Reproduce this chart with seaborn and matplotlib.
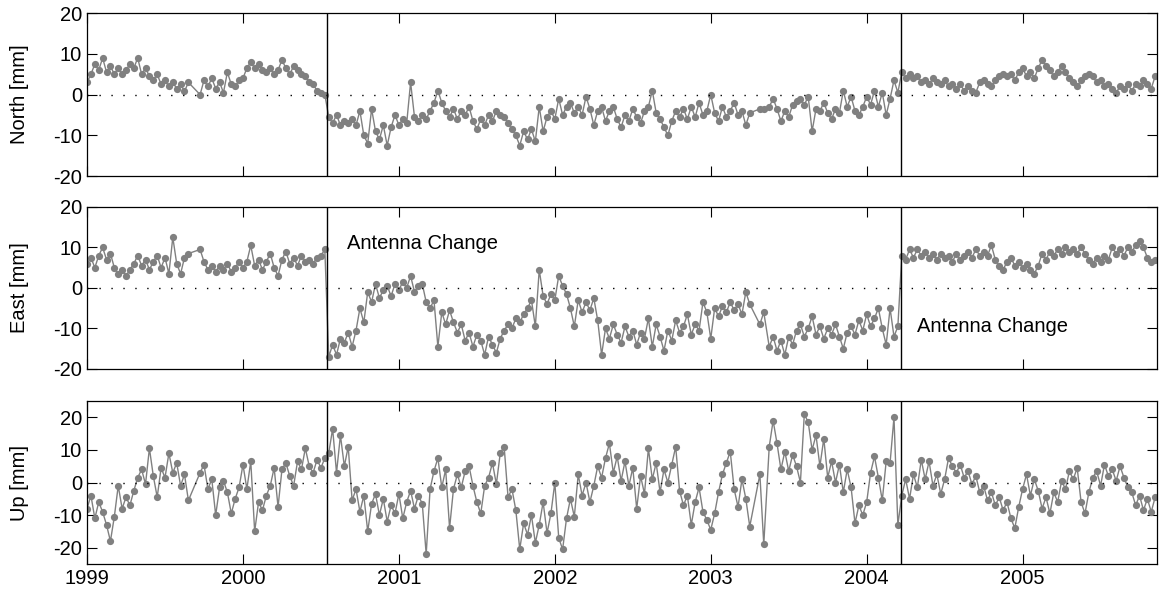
import pandas as pd
import seaborn as sns
import matplotlib.pyplot as plt

# epochs in decimal years (shared by the three components), values in mm
years = [
    # 1999 (data gap 1999.65 - 1999.725)
    1999.000, 1999.025, 1999.050, 1999.075, 1999.100, 1999.125, 1999.150, 1999.175, 1999.200, 1999.225,
    1999.250, 1999.275, 1999.300, 1999.325, 1999.350, 1999.375, 1999.400, 1999.425, 1999.450, 1999.475,
    1999.500, 1999.525, 1999.550, 1999.575, 1999.600, 1999.625, 1999.650,
    1999.725, 1999.750, 1999.775, 1999.800, 1999.825, 1999.850, 1999.875, 1999.900, 1999.925, 1999.950, 1999.975,
    # 2000
    2000.000, 2000.025, 2000.050, 2000.075, 2000.100, 2000.125, 2000.150, 2000.175, 2000.200, 2000.225,
    2000.250, 2000.275, 2000.300, 2000.325, 2000.350, 2000.375, 2000.400, 2000.425, 2000.450, 2000.475,
    2000.500, 2000.525, 2000.550, 2000.575, 2000.600, 2000.625, 2000.650, 2000.675, 2000.700, 2000.725,
    2000.750, 2000.775, 2000.800, 2000.825, 2000.850, 2000.875, 2000.900, 2000.925, 2000.950, 2000.975,
    # 2001
    2001.000, 2001.025, 2001.050, 2001.075, 2001.100, 2001.125, 2001.150, 2001.175, 2001.200, 2001.225,
    2001.250, 2001.275, 2001.300, 2001.325, 2001.350, 2001.375, 2001.400, 2001.425, 2001.450, 2001.475,
    2001.500, 2001.525, 2001.550, 2001.575, 2001.600, 2001.625, 2001.650, 2001.675, 2001.700, 2001.725,
    2001.750, 2001.775, 2001.800, 2001.825, 2001.850, 2001.875, 2001.900, 2001.925, 2001.950, 2001.975,
    # 2002
    2002.000, 2002.025, 2002.050, 2002.075, 2002.100, 2002.125, 2002.150, 2002.175, 2002.200, 2002.225,
    2002.250, 2002.275, 2002.300, 2002.325, 2002.350, 2002.375, 2002.400, 2002.425, 2002.450, 2002.475,
    2002.500, 2002.525, 2002.550, 2002.575, 2002.600, 2002.625, 2002.650, 2002.675, 2002.700, 2002.725,
    2002.750, 2002.775, 2002.800, 2002.825, 2002.850, 2002.875, 2002.900, 2002.925, 2002.950, 2002.975,
    # 2003 (sparse around 2003.3)
    2003.000, 2003.025, 2003.050, 2003.075, 2003.100, 2003.125, 2003.150, 2003.175, 2003.200, 2003.225,
    2003.250,
    2003.315, 2003.340,
    2003.375, 2003.400, 2003.425, 2003.450, 2003.475, 2003.500, 2003.525, 2003.550, 2003.575, 2003.600,
    2003.625, 2003.650, 2003.675, 2003.700, 2003.725, 2003.750, 2003.775, 2003.800, 2003.825, 2003.850,
    2003.875, 2003.900, 2003.925, 2003.950, 2003.975,
    # 2004
    2004.000, 2004.025, 2004.050, 2004.075, 2004.100, 2004.125, 2004.150, 2004.175, 2004.200, 2004.225,
    2004.250, 2004.275, 2004.300, 2004.325, 2004.350, 2004.375, 2004.400, 2004.425, 2004.450, 2004.475,
    2004.500, 2004.525, 2004.550, 2004.575, 2004.600, 2004.625, 2004.650, 2004.675, 2004.700, 2004.725,
    2004.750, 2004.775, 2004.800, 2004.825, 2004.850, 2004.875, 2004.900, 2004.925, 2004.950, 2004.975,
    # 2005
    2005.000, 2005.025, 2005.050, 2005.075, 2005.100, 2005.125, 2005.150, 2005.175, 2005.200, 2005.225,
    2005.250, 2005.275, 2005.300, 2005.325, 2005.350, 2005.375, 2005.400, 2005.425, 2005.450, 2005.475,
    2005.500, 2005.525, 2005.550, 2005.575, 2005.600, 2005.625, 2005.650, 2005.675, 2005.700, 2005.725,
    2005.750, 2005.775, 2005.800, 2005.825, 2005.850,
]

north = [
    3.0, 5.0, 7.5, 6.0, 9.0, 5.5, 7.0, 5.0, 6.5, 5.0,
    6.0, 7.5, 6.5, 9.0, 5.0, 6.5, 4.5, 3.5, 5.0, 2.5,
    3.5, 2.0, 3.0, 1.5, 2.5, 0.8, 3.0,
    0.0, 3.5, 2.0, 4.0, 1.5, 3.0, 0.5, 5.5, 2.5, 2.0, 3.5,
    4.0, 6.5, 8.0, 6.5, 7.5, 6.0, 5.5, 6.5, 5.0, 6.0,
    8.5, 6.5, 5.0, 7.0, 6.0, 5.0, 4.5, 3.0, 2.5, 1.0,
    0.5, 0.0, -5.5, -7.0, -5.0, -7.5, -6.5, -7.0, -6.0, -7.5,
    -4.0, -10.0, -12.0, -3.5, -9.0, -11.0, -7.5, -12.5, -8.0, -5.0,
    -7.5, -6.0, -7.0, 3.0, -5.5, -6.5, -5.0, -6.0, -4.0, -2.0,
    1.0, -2.0, -4.0, -5.5, -3.5, -6.0, -4.0, -5.0, -3.0, -6.5,
    -8.5, -6.0, -7.5, -5.0, -6.5, -4.0, -5.0, -5.5, -7.0, -8.5,
    -10.0, -12.5, -9.0, -11.0, -8.5, -11.5, -3.0, -9.0, -5.5, -4.0,
    -6.0, -1.0, -5.0, -3.0, -2.0, -4.5, -3.0, -5.0, -0.5, -3.5,
    -7.5, -4.0, -3.0, -6.5, -4.0, -3.0, -6.0, -8.0, -5.0, -6.5,
    -3.5, -5.5, -7.0, -4.0, -3.0, 1.0, -4.5, -6.0, -8.0, -10.0,
    -6.5, -4.0, -5.5, -3.5, -6.0, -3.0, -5.5, -2.0, -5.0, -4.0,
    0.0, -4.5, -6.5, -3.0, -5.5, -4.0, -2.0, -5.0, -4.0, -7.5,
    -4.5,
    -3.5, -3.5,
    -3.0, -1.0, -3.5, -6.5, -4.0, -5.5, -2.5, -1.5, -1.0, -2.5,
    -0.5, -9.0, -3.5, -4.0, -2.0, -4.5, -6.0, -3.5, -4.5, 1.0,
    -3.0, -0.5, -4.0, -5.0, -3.0,
    -0.5, -2.5, 1.0, -3.0, 0.5, -5.0, -1.0, 3.5, 0.5, 5.5,
    4.0, 5.0, 4.0, 4.5, 3.0, 3.5, 2.5, 4.0, 3.0, 2.5,
    3.5, 2.0, 2.5, 1.5, 2.5, 1.0, 2.0, 1.0, 0.5, 3.0,
    3.5, 2.5, 2.0, 3.5, 4.5, 5.0, 4.5, 5.0, 3.5, 5.5,
    6.5, 4.5, 5.5, 4.0, 6.5, 8.5, 7.0, 6.0, 4.5, 5.5,
    7.0, 5.5, 4.0, 3.0, 2.0, 3.5, 4.5, 5.0, 4.5, 3.0,
    3.5, 2.0, 2.5, 1.5, 0.5, 2.0, 1.5, 2.5, 1.0, 2.5,
    2.0, 3.5, 2.5, 1.5, 4.5,
]

east = [
    6.0, 7.5, 5.0, 8.0, 10.0, 7.0, 8.5, 5.0, 3.5, 4.5,
    3.0, 4.5, 6.0, 8.0, 5.5, 7.0, 4.5, 6.5, 8.0, 5.0,
    7.5, 3.5, 12.5, 6.0, 3.5, 7.5, 8.5,
    9.5, 6.5, 4.5, 5.5, 4.0, 5.5, 4.5, 6.0, 4.0, 5.0, 6.5,
    5.0, 6.5, 10.5, 5.5, 7.0, 4.5, 6.5, 8.5, 5.0, 3.0,
    7.0, 9.0, 6.0, 7.5, 5.5, 8.0, 6.5, 7.0, 6.0, 7.5,
    8.0, 9.5, -17.0, -14.0, -16.5, -12.5, -13.5, -11.0, -14.5, -10.5,
    -5.0, -8.5, -1.0, -3.5, 1.0, -2.5, -0.5, 0.5, -2.0, 1.0,
    -0.5, 1.5, 0.0, 3.0, -1.0, 0.5, 1.0, -3.5, -5.0, -3.0,
    -14.5, -6.0, -9.0, -5.5, -8.5, -11.0, -9.0, -13.0, -11.0, -14.5,
    -11.5, -13.0, -16.5, -12.0, -14.0, -16.0, -12.5, -10.5, -9.0, -10.0,
    -7.5, -8.5, -6.5, -5.0, -3.0, -9.5, 4.5, -2.0, -4.0, -1.5,
    -3.0, 3.0, 0.5, -1.5, -5.0, -9.5, -3.0, -6.0, -3.5, -5.5,
    -2.5, -8.0, -16.5, -10.0, -12.5, -9.0, -11.5, -13.5, -9.5, -12.0,
    -10.5, -14.0, -11.0, -12.5, -7.5, -14.5, -9.0, -12.0, -15.5, -10.5,
    -13.0, -8.0, -11.0, -9.5, -6.5, -11.5, -9.0, -10.5, -3.5, -6.0,
    -12.5, -5.0, -7.0, -4.5, -6.0, -3.5, -5.5, -4.0, -6.5, -1.0,
    -4.0,
    -9.0, -6.0,
    -14.5, -12.0, -15.5, -13.0, -16.5, -12.0, -14.0, -10.5, -9.0, -12.0,
    -10.0, -7.0, -11.5, -9.5, -12.5, -10.0, -11.5, -9.0, -12.0, -15.0,
    -11.0, -9.5, -11.5, -8.0, -10.5,
    -6.5, -9.5, -7.5, -5.0, -10.0, -14.0, -5.0, -12.0, -9.5, 8.0,
    7.0, 9.5, 7.5, 9.5, 8.0, 9.0, 7.5, 8.5, 7.0, 8.5,
    7.5, 8.0, 6.5, 8.5, 7.0, 8.0, 9.0, 7.5, 9.5, 8.0,
    9.0, 8.0, 10.5, 7.0, 5.5, 4.5, 6.5, 7.5, 5.5, 6.5,
    5.0, 6.0, 4.5, 3.5, 5.5, 8.5, 7.0, 9.0, 8.0, 9.5,
    8.5, 10.0, 9.0, 9.5, 8.5, 10.0, 8.5, 7.0, 6.0, 7.5,
    6.5, 8.0, 7.0, 10.0, 8.5, 9.5, 8.0, 10.0, 9.0, 10.5,
    11.5, 10.0, 7.5, 6.5, 7.0,
]

up = [
    -8.0, -4.0, -11.0, -6.0, -9.0, -13.0, -18.0, -10.5, -1.0, -8.0,
    -4.5, -7.0, -2.5, 1.5, 4.0, -0.5, 10.5, 2.0, -4.5, 4.5,
    1.5, 9.0, 3.0, 6.0, -1.0, 2.5, -5.5,
    3.0, 5.5, -2.0, 1.0, -10.0, -1.5, 0.5, -3.0, -9.5, -5.0, -1.5,
    5.5, -2.0, 6.5, -15.0, -6.0, -8.5, -4.0, -1.0, 4.5, -7.5,
    4.0, 6.0, 2.0, -1.0, 6.5, 4.0, 10.5, 5.0, 3.0, 7.0,
    4.5, 7.5, 9.0, 16.5, 3.0, 14.5, 5.0, 11.0, -5.5, -2.0,
    -9.0, -4.0, -15.0, -6.5, -3.5, -10.0, -5.0, -12.0, -7.0, -9.5,
    -3.5, -11.0, -6.0, -2.5, -8.0, -4.0, -6.5, -22.0, -2.0, 3.5,
    7.5, -1.5, 4.0, -14.0, -2.0, 2.5, -1.5, 3.5, 5.0, -1.0,
    -6.0, -9.5, -1.0, 1.5, 6.0, -0.5, 9.0, 11.0, -4.5, -2.0,
    -8.5, -20.5, -12.5, -16.0, -10.0, -18.5, -13.0, -6.0, -15.5, -9.5,
    0.0, -17.0, -20.5, -11.0, -5.0, -10.5, 2.5, -4.0, 0.0, -6.0,
    -1.0, 5.0, 1.5, 7.5, 12.0, 3.0, 8.0, 0.5, 6.5, -1.0,
    4.5, -8.0, 2.0, -3.5, 10.5, 1.0, 6.0, -3.0, 4.0, 0.0,
    5.5, 11.0, -2.5, -7.0, -4.0, -13.0, -6.0, -1.5, -9.0, -11.5,
    -14.5, -9.5, -3.0, 2.5, 6.0, 9.5, -2.0, -7.5, 1.0, -5.0,
    -13.5,
    2.5, -19.0,
    11.0, 19.0, 12.0, 4.0, 9.5, 3.5, 8.5, 5.0, 0.0, 21.0,
    18.5, 10.0, 14.5, 5.0, 13.5, 1.5, 6.5, 0.0, 5.5, -3.0,
    4.0, -1.5, -12.5, -7.0, -10.0,
    -6.0, 3.0, 8.0, 1.5, -5.5, 6.5, 6.0, 20.0, -13.0, -4.0,
    1.0, -5.0, 2.5, -1.5, 7.0, 1.0, 6.5, -1.0, 2.5, -3.5,
    1.0, 7.5, 5.0, 3.0, 5.5, 1.5, 3.5, -0.5, 2.0, -3.0,
    -1.0, -5.5, -3.0, -7.0, -4.5, -8.5, -6.0, -11.0, -14.0, -7.5,
    -2.0, 2.5, -4.0, 1.0, -2.5, -8.0, -4.5, -9.5, -3.0, -6.0,
    0.5, -2.0, 3.5, 1.0, 4.5, -6.0, -9.5, -3.0, 1.5, 3.5,
    -1.0, 5.5, 2.0, 4.0, 0.5, 5.0, 1.5, -1.5, -3.0, -7.0,
    -4.0, -8.5, -5.0, -9.0, -4.5,
]

antenna_changes = [2000.54, 2004.22]
year_ticks = [1999, 2000, 2001, 2002, 2003, 2004, 2005]

assert len(years) == len(north) == len(east) == len(up), (len(years), len(north), len(east), len(up))

df = pd.DataFrame({'year': years, 'North': north, 'East': east, 'Up': up})

sns.set_style('ticks')
plt.rcParams['font.family'] = ['Liberation Sans', 'DejaVu Sans']
plt.rcParams['axes.unicode_minus'] = False
for key in ['text.color', 'axes.labelcolor', 'xtick.color', 'ytick.color', 'axes.edgecolor']:
    plt.rcParams[key] = 'black'

fig = plt.figure(figsize=(11.59, 5.99), dpi=100)
left, width = 0.0751, 0.9236
panels = [
    ('North', 0.706, 0.2721, (-20, 20)),
    ('East', 0.384, 0.2705, (-20, 20)),
    ('Up', 0.0584, 0.2721, (-25, 25)),
]

axes = []
for i, (comp, bottom, height, ylim) in enumerate(panels):
    ax = fig.add_axes([left, bottom, width, height])
    sns.lineplot(data=df, x='year', y=comp, ax=ax, color='#808080',
                 marker='o', markersize=5.2, markeredgewidth=0,
                 linewidth=1.0, estimator=None, sort=False, legend=False)
    ax.axhline(0, color='black', linewidth=1.0, linestyle=(0, (1, 7.6)))
    for xc in antenna_changes:
        ax.axvline(xc, color='black', linewidth=1.0)
    ax.set_xlim(1999, 2005.865)
    ax.set_ylim(*ylim)
    ax.set_yticks([-20, -10, 0, 10, 20])
    ax.set_xticks(year_ticks)
    ax.tick_params(direction='in', top=True, right=True, length=7,
                   width=0.8, labelsize=14.5, colors='black')
    for sp in ax.spines.values():
        sp.set_linewidth(0.9)
        sp.set_color('black')
    ax.set_xlabel('')
    ax.set_ylabel(f'{comp} [mm]', fontsize=14.5, color='black')
    ax.yaxis.set_label_coords(-0.054, 0.5)
    if i < 2:
        ax.set_xticklabels([])
    axes.append(ax)

axes[1].text(2000.67, 11, 'Antenna Change', va='center', fontsize=14.5, color='black')
axes[1].text(2004.32, -9.4, 'Antenna Change', va='center', fontsize=14.5, color='black')

fig.savefig('out.png', dpi=100)
